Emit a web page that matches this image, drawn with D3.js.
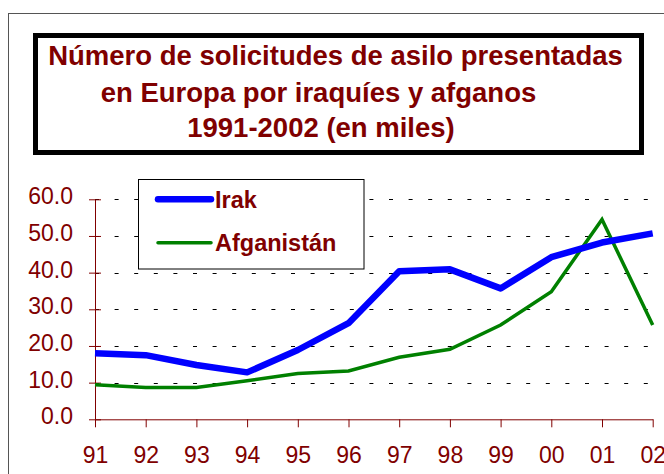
<!DOCTYPE html>
<html><head><meta charset="utf-8">
<script src="https://cdn.jsdelivr.net/npm/d3@7"></script>
<style>
html,body{margin:0;padding:0;background:#fff;overflow:hidden}
svg{display:block;font-family:Arial,"Liberation Sans",sans-serif}
</style></head>
<body>
<svg id="c" width="664" height="474"></svg>
<script>
const years = ["91","92","93","94","95","96","97","98","99","00","01","02"];
const irak = [18.0,17.5,14.8,12.8,18.9,26.2,40.4,40.9,35.7,44.2,48.2,50.7];
const afganistan = [9.4,8.7,8.7,10.5,12.5,13.2,16.9,19.1,25.7,34.8,54.5,25.7];
const yTicks = [0,10,20,30,40,50,60];
const seriesNames = ["Irak","Afganistán"];
const titleLines = ["Número de solicitudes de asilo presentadas","en Europa por iraquíes y afganos","1991-2002 (en miles)"];

const dark = "#800000";
const svg = d3.select("#c");

// outer frame
svg.append("rect").attr("x",8.5).attr("y",13.5).attr("width",700).attr("height",500)
  .attr("fill","none").attr("stroke","#555").attr("stroke-width",1);

// title box
svg.append("rect").attr("x",38).attr("y",38).attr("width",606).attr("height",117)
  .attr("fill","#bbb");
svg.append("rect").attr("x",35.5).attr("y",35.5).attr("width",606).attr("height",117)
  .attr("fill","#fff").attr("stroke","#000").attr("stroke-width",5);
const tcx = [335.5,318.5,321];
const tby = [65,101.5,137];
svg.selectAll("text.title").data(titleLines).enter().append("text")
  .attr("class","title").attr("x",(d,i)=>tcx[i]).attr("y",(d,i)=>tby[i])
  .attr("text-anchor","middle").attr("font-size",27.5).attr("font-weight","bold")
  .attr("fill",dark).text(d=>d);

const x = d3.scalePoint().domain(years).range([95,652.7]);
const y = d3.scaleLinear().domain([0,60]).range([419.3,199.3]);

// grid
svg.append("g").selectAll("line").data(yTicks.filter(d=>d>0)).enter().append("line")
  .attr("x1",95).attr("x2",660).attr("y1",d=>Math.round(y(d))+0.5).attr("y2",d=>Math.round(y(d))+0.5)
  .attr("stroke","#000").attr("stroke-width",1).attr("stroke-dasharray","4,15.6");

// y axis
const ya = svg.append("g").attr("transform","translate(95,0)")
  .call(d3.axisLeft(y).tickValues(yTicks).tickFormat(d3.format(".1f")).tickSizeInner(6).tickSizeOuter(0));
ya.select(".domain").attr("stroke",dark);
ya.selectAll(".tick line").attr("stroke",dark).attr("x1",-6).attr("x2",6);
ya.selectAll(".tick text").attr("fill",dark).attr("font-size",23).attr("font-family","Arial,'Liberation Sans',sans-serif")
  .attr("x",-22).attr("dy","0.2em");

// x axis
const xa = svg.append("g").attr("transform","translate(0,419.3)")
  .call(d3.axisBottom(x).tickSizeInner(8).tickSizeOuter(0));
xa.select(".domain").attr("stroke",dark);
xa.selectAll(".tick line").attr("stroke",dark);
xa.selectAll(".tick text").attr("fill",dark).attr("font-size",23).attr("font-family","Arial,'Liberation Sans',sans-serif")
  .attr("y",27).attr("dy","0.71em");

// lines
const line = d3.line().x((d,i)=>x(years[i])).y(d=>y(d));
svg.append("path").datum(afganistan).attr("d",line).attr("fill","none")
  .attr("stroke","#008000").attr("stroke-width",3.5).attr("stroke-linejoin","miter");
svg.append("path").datum(irak).attr("d",line).attr("fill","none")
  .attr("stroke","#0000FF").attr("stroke-width",6.5).attr("stroke-linejoin","round");

// legend
const lg = svg.append("g");
lg.append("rect").attr("x",138.5).attr("y",179.5).attr("width",225.5).attr("height",89.5)
  .attr("fill","#fff").attr("stroke","#000").attr("stroke-width",1);
const lgY = [199.3,242.7];
const lgCol = ["#0000FF","#008000"], lgW=[6.5,3.5];
seriesNames.forEach((n,i)=>{
  lg.append("line").attr("x1",158).attr("x2",211).attr("y1",lgY[i]).attr("y2",lgY[i])
    .attr("stroke",lgCol[i]).attr("stroke-width",lgW[i]).attr("stroke-linecap","round");
  lg.append("text").attr("x",215).attr("y",lgY[i]+8.5).attr("font-size",23.5).attr("font-weight","bold")
    .attr("fill",dark).text(n);
});
</script>
</body></html>
